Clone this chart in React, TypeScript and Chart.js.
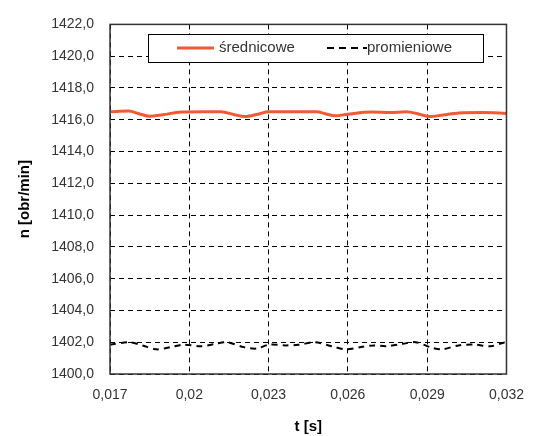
import React, { useEffect, useRef } from "react";
import { Chart, registerables } from "chart.js";

Chart.register(...registerables);

const srednT = [0.017, 0.0177, 0.0181, 0.0185, 0.019, 0.0197, 0.0205, 0.0212, 0.0217, 0.0221, 0.0226, 0.023, 0.0238, 0.0248, 0.0252, 0.0255, 0.026, 0.0269, 0.0276, 0.0282, 0.0287, 0.0291, 0.0296, 0.0302, 0.0311, 0.032];
const srednV = [1416.5, 1416.55, 1416.38, 1416.22, 1416.32, 1416.48, 1416.5, 1416.5, 1416.32, 1416.2, 1416.35, 1416.5, 1416.5, 1416.5, 1416.35, 1416.25, 1416.35, 1416.48, 1416.45, 1416.5, 1416.35, 1416.2, 1416.3, 1416.42, 1416.45, 1416.4];

const promT = [0.017, 0.01774, 0.01822, 0.01877, 0.01933, 0.01977, 0.02044, 0.02095, 0.02143, 0.02206, 0.02254, 0.02302, 0.02365, 0.02413, 0.02476, 0.02539, 0.02594, 0.0265, 0.02698, 0.02746, 0.02808, 0.02856, 0.02919, 0.02956, 0.03019, 0.03078, 0.03141, 0.03189, 0.032];
const promV = [1401.84, 1402.0, 1401.8, 1401.55, 1401.7, 1401.85, 1401.75, 1401.88, 1402.0, 1401.69, 1401.6, 1401.85, 1401.8, 1401.84, 1402.0, 1401.75, 1401.55, 1401.7, 1401.8, 1401.75, 1401.9, 1402.0, 1401.65, 1401.55, 1401.8, 1401.85, 1401.75, 1401.97, 1401.97];

const xTicks = [0.017, 0.02, 0.023, 0.026, 0.029, 0.032];
const seriesNames = ["średnicowe", "promieniowe"];
const seriesColors = ["#F05A35", "#000000"];

const fmtY = (v: number) => v.toFixed(1).replace(".", ",");
const fmtX = (v: number) => String(Number(v.toFixed(3))).replace(".", ",");

const legendPlugin = {
  id: "boxLegend",
  afterDatasetsDraw(chart: any) {
    const ctx = chart.ctx;
    const x0 = 148, y0 = 34, w = 335, h = 28;
    ctx.save();
    ctx.fillStyle = "#ffffff";
    ctx.fillRect(x0, y0, w, h);
    ctx.strokeStyle = "#000000";
    ctx.lineWidth = 1;
    ctx.strokeRect(x0 + 0.5, y0 + 0.5, w, h);
    const cy = y0 + h / 2;
    ctx.font = "15px 'Liberation Sans', Arial, sans-serif";
    ctx.textBaseline = "middle";
    ctx.fillStyle = "#333333";
    // item 1
    ctx.strokeStyle = seriesColors[0];
    ctx.lineWidth = 3;
    ctx.beginPath();
    ctx.moveTo(177, cy);
    ctx.lineTo(214, cy);
    ctx.stroke();
    ctx.fillText(seriesNames[0], 219, cy);
    // item 2
    ctx.strokeStyle = seriesColors[1];
    ctx.lineWidth = 2;
    ctx.setLineDash([7, 5]);
    ctx.beginPath();
    ctx.moveTo(327, cy);
    ctx.lineTo(367, cy);
    ctx.stroke();
    ctx.setLineDash([]);
    ctx.fillText(seriesNames[1], 367, cy);
    ctx.restore();
  },
};

const borderPlugin = {
  id: "plotBorder",
  afterDraw(chart: any) {
    const { ctx, chartArea } = chart;
    ctx.save();
    ctx.strokeStyle = "#333333";
    ctx.lineWidth = 1.5;
    ctx.strokeRect(chartArea.left, chartArea.top, chartArea.right - chartArea.left, chartArea.bottom - chartArea.top);
    ctx.restore();
  },
};

export default function App() {
  const ref = useRef<HTMLCanvasElement>(null);
  useEffect(() => {
    document.body.style.margin = "0";
    const tickFont = { family: "'Liberation Sans', Arial, sans-serif", size: 14 };
    const titleFont = { family: "'Liberation Sans', Arial, sans-serif", size: 15, weight: "bold" as const };
    const chart = new Chart(ref.current!, {
      type: "line",
      data: {
        datasets: [
          {
            label: seriesNames[0],
            data: srednT.map((t, i) => ({ x: t, y: srednV[i] })),
            borderColor: seriesColors[0],
            borderWidth: 3,
            pointRadius: 0,
            tension: 0.4,
            cubicInterpolationMode: "monotone",
          },
          {
            label: seriesNames[1],
            data: promT.map((t, i) => ({ x: t, y: promV[i] })),
            borderColor: seriesColors[1],
            borderWidth: 2,
            borderDash: [6, 5],
            pointRadius: 0,
            tension: 0.3,
          },
        ],
      },
      options: {
        animation: false,
        responsive: false,
        layout: { padding: { top: 19, right: 21, left: 0, bottom: 0 } },
        plugins: { legend: { display: false }, tooltip: { enabled: false } },
        scales: {
          x: {
            type: "linear",
            min: 0.017,
            max: 0.032,
            afterBuildTicks: (s: any) => {
              s.ticks = xTicks.map((v) => ({ value: v }));
            },
            afterFit: (s: any) => {
              s.height = 62;
            },
            ticks: {
              font: tickFont,
              color: "#333333",
              padding: 13,
              maxRotation: 0,
              callback: (v: any) => fmtX(Number(v)),
            },
            grid: {
              color: "#000000",
              lineWidth: 1,
              tickBorderDash: [],
              drawTicks: false,
            },
            border: { display: false, dash: [5, 4] },
            title: { display: true, text: "t [s]", font: titleFont, color: "#000000", padding: { top: 0, bottom: 0 } },
          },
          y: {
            type: "linear",
            min: 1400,
            max: 1422,
            ticks: {
              stepSize: 2,
              font: tickFont,
              color: "#333333",
              padding: 16,
              callback: (v: any) => fmtY(Number(v)),
            },
            afterFit: (s: any) => {
              s.width = 110;
            },
            grid: {
              color: "#000000",
              lineWidth: 1,
              drawTicks: false,
            },
            border: { display: false, dash: [5, 4] },
            title: { display: true, text: "n [obr/min]", font: titleFont, color: "#000000", padding: { top: 16, bottom: 0 } },
          },
        },
      },
      plugins: [legendPlugin, borderPlugin],
    });
    return () => chart.destroy();
  }, []);
  return (
    <div style={{ width: 537, height: 436, background: "#fff" }}>
      <canvas ref={ref} width={537} height={436} style={{ display: "block" }} />
    </div>
  );
}
